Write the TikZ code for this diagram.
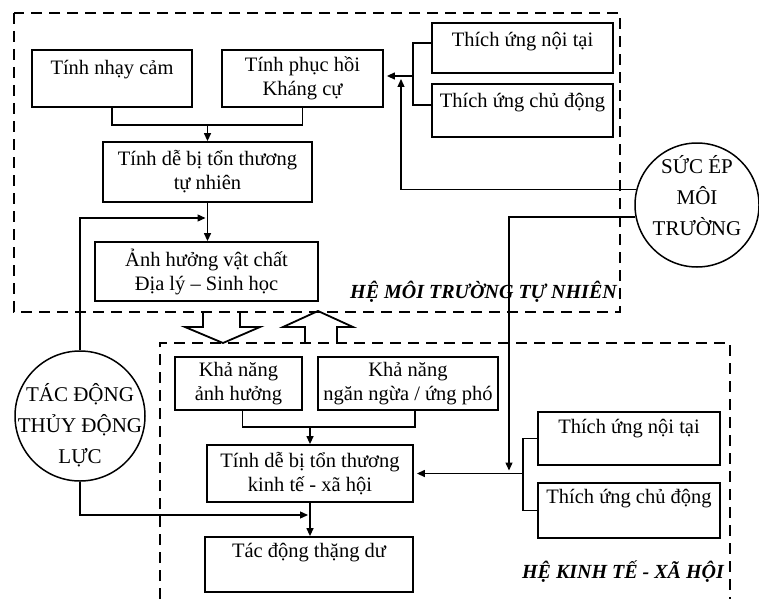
\documentclass[tikz,border=0pt]{standalone}
\usepackage{fontspec}
\setmainfont{Liberation Serif}
\usetikzlibrary{arrows.meta,calc}
\begin{document}
\begin{tikzpicture}[x=1pt,y=-1pt,
  box/.style={draw,line width=1.8pt,inner sep=0pt,align=center,font=\fontsize{20.5}{24}\selectfont},
  conn/.style={line width=1.3pt},
  arr/.style={conn,-{Triangle[length=8pt,width=7pt]}},
  region/.style={line width=2.4pt,dash pattern=on 11pt off 7pt},
  bigarrow/.style={line width=1.8pt,line join=miter},
  circ/.style={draw,circle,line width=1.5pt,inner sep=0pt},
  circtext/.style={align=center,inner sep=0pt,font=\fontsize{21}{31}\selectfont},
  lbl/.style={font=\fontsize{20}{24}\selectfont\bfseries\itshape,inner sep=0pt}
]
\useasboundingbox[fill=white] (0,0) rectangle (759,599);

% regions
\draw[region] (14,13) rectangle (620,312);
\draw[region] (160,599) -- (160,343) -- (730,343) -- (730,599);

% upper boxes
\node[box,minimum width=160pt,text height=25pt,text depth=32pt] (nhay) at (112,78.5) {Tính nhạy cảm};
\node[box,minimum width=161pt,minimum height=57pt] (phuchoi) at (302.5,78.5) {Tính phục hồi\\Kháng cự};
\node[box,minimum width=209pt,minimum height=60pt] (tnhien) at (207.5,172) {Tính dễ bị tổn thương\\tự nhiên};
\node[box,minimum width=223pt,minimum height=59pt] (anhhuong) at (206.5,271.5) {Ảnh hưởng vật chất\\Địa lý – Sinh học};
\node[box,minimum width=181pt,text height=24pt,text depth=26pt] (noitai1) at (522.5,48) {Thích ứng nội tại};
\node[box,minimum width=181pt,text height=23pt,text depth=30pt] (chudong1) at (522.5,110.5) {Thích ứng chủ động};

% lower boxes
\node[box,minimum width=127pt,minimum height=53pt] (khanang1) at (238.5,383.5) {Khả năng\\ảnh hưởng};
\node[box,minimum width=180pt,minimum height=53pt] (khanang2) at (408,383.5) {Khả năng\\ngăn ngừa / ứng phó};
\node[box,minimum width=206pt,minimum height=57pt] (tkt) at (310,473.5) {Tính dễ bị tổn thương\\kinh tế - xã hội};
\node[box,minimum width=208pt,text height=20pt,text depth=35pt] (thangdu) at (309,564.5) {Tác động thặng dư};
\node[box,minimum width=182pt,text height=21pt,text depth=32pt] (noitai2) at (629,438.5) {Thích ứng nội tại};
\node[box,minimum width=182pt,text height=20pt,text depth=35pt] (chudong2) at (629,510.5) {Thích ứng chủ động};

% circles
\node[circ,minimum size=124pt] (sucep) at (697,205) {};
\node[circtext] (sucept) at (697,196) {SỨC ÉP\\MÔI\\TRƯỜNG};
\node[circ,minimum size=130pt] (tacdong) at (80,416) {};
\node[circtext] (tacdongt) at (80,425) {TÁC ĐỘNG\\THỦY ĐỘNG\\LỰC};

% region labels
\node[lbl,anchor=base east] (lblnat) at (617,298) {HỆ MÔI TRƯỜNG TỰ NHIÊN};
\node[lbl,anchor=base east] (lblsoc) at (724,578) {HỆ KINH TẾ - XÃ HỘI};

% big hollow arrows
\draw[bigarrow] (203,312) -- (203,327) -- (185,327) -- (223,343) -- (260,327) -- (240,327) -- (240,312);
\draw[bigarrow] (305,343) -- (305,327) -- (283,327) -- (318,311) -- (353,327) -- (337,327) -- (337,343);

% upper connectors
\coordinate (m1) at (207.5,125);
\draw[conn] (nhay.south) |- (m1) -| (phuchoi.south);
\draw[arr] (m1) -- (tnhien.north);
\draw[arr] (tnhien.south) -- (tnhien.south |- anhhuong.north);
\coordinate (j4) at (207.5,218);
\draw[arr,shorten >=2pt] (tacdong.north) |- (j4);
\coordinate (b1) at (413,76);
\draw[conn] ([yshift=5pt]noitai1.west) -| (b1) |- ([yshift=5.5pt]chudong1.west);
\draw[arr,shorten >=3pt] (b1) -- (b1 -| phuchoi.east);
\coordinate (j1) at (401,76);
\draw[arr,shorten >=3pt] (sucep.166) -| (j1);

% lower connectors
\coordinate (m2) at (310,427);
\draw[conn] ([xshift=4pt]khanang1.south) |- (m2) -| ([xshift=7pt]khanang2.south);
\draw[arr] (m2) -- (tkt.north);
\draw[arr] (tkt.south) -- (tkt.south |- thangdu.north);
\coordinate (b2) at (523,473.5);
\draw[conn] (noitai2.west) -| (b2) |- (chudong2.west);
\draw[arr,shorten >=3pt] (b2) -- (b2 -| tkt.east);
\coordinate (j2) at (509,473.5);
\draw[arr,shorten >=3pt] (sucep.191) -| (j2);
\coordinate (j3) at (310,515);
\draw[arr,shorten >=2pt] (tacdong.south) |- (j3);
\end{tikzpicture}
\end{document}
